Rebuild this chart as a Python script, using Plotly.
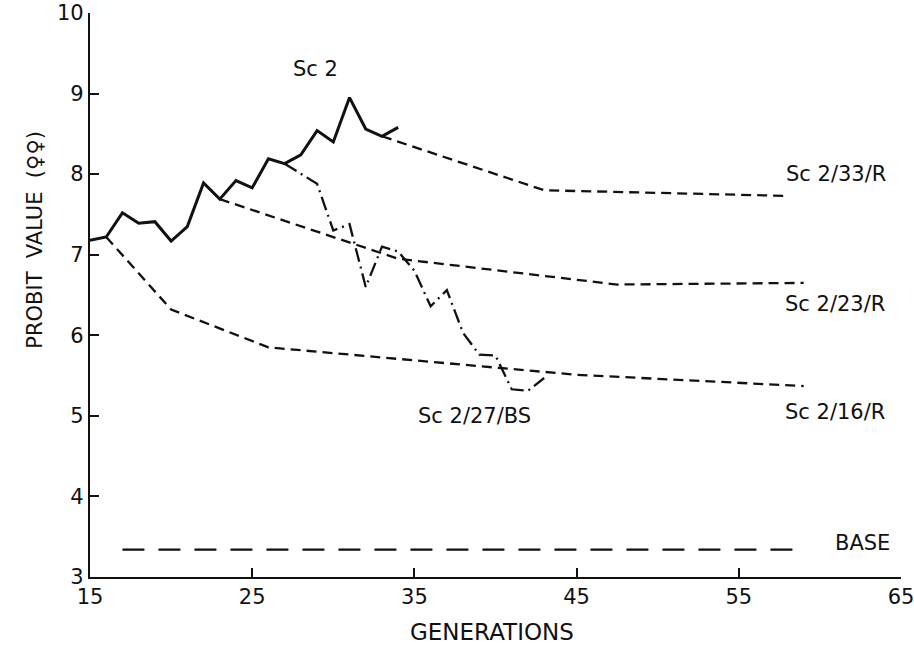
import plotly.graph_objects as go

# ---- data ----
sc2_gen = list(range(15, 35))
sc2_val = [7.18, 7.22, 7.52, 7.39, 7.41, 7.17, 7.35, 7.89, 7.69, 7.92,
           7.83, 8.19, 8.13, 8.24, 8.54, 8.40, 8.95, 8.56, 8.47, 8.58]

r33_gen = [33, 43, 58]
r33_val = [8.47, 7.80, 7.73]

r23_gen = [23, 34, 47.5, 59]
r23_val = [7.69, 6.95, 6.63, 6.65]

r16_gen = [16, 20, 26, 45, 59]
r16_val = [7.22, 6.32, 5.85, 5.51, 5.37]

bs_gen = [27, 29, 30, 31, 32, 33, 34, 35, 36, 37, 38, 39, 40, 41, 42, 43]
bs_val = [8.13, 7.88, 7.30, 7.38, 6.60, 7.10, 7.04, 6.80, 6.36, 6.56,
          6.03, 5.76, 5.75, 5.33, 5.31, 5.47]

base_gen = [17, 59]
base_val = [3.34, 3.34]

x_ticks = [15, 25, 35, 45, 55, 65]
y_ticks = [3, 4, 5, 6, 7, 8, 9, 10]

labels = ["Sc 2", "Sc 2/33/R", "Sc 2/23/R", "Sc 2/16/R", "Sc 2/27/BS", "BASE"]
label_x = [28.9, 61.0, 60.9, 60.9, 38.7, 62.6]
label_y = [9.31, 8.0, 6.39, 5.05, 5.0, 3.42]

FONT = "DejaVu Sans"
INK = "#111111"

fig = go.Figure()

def add(x, y, dash, width=2.3):
    fig.add_trace(go.Scatter(x=x, y=y, mode="lines",
                             line=dict(color=INK, width=width, dash=dash),
                             showlegend=False, hoverinfo="skip"))

add(r16_gen, r16_val, "10px,6px")
add(r23_gen, r23_val, "10px,6px")
add(r33_gen, r33_val, "10px,6px")
add(bs_gen, bs_val, "14px,5px,2px,5px")
add(base_gen, base_val, "22px,14px")
add(sc2_gen, sc2_val, "solid", 3)

for t, x, y in zip(labels, label_x, label_y):
    fig.add_annotation(x=x, y=y, text=t, showarrow=False,
                       xanchor="center", yanchor="middle",
                       font=dict(family=FONT, size=21, color=INK))

fig.add_annotation(x=-0.0678, y=0.598, xref="paper", yref="paper",
                   xanchor="center", yanchor="middle",
                   text="PROBIT  VALUE  (♀♀)", textangle=-90, showarrow=False,
                   font=dict(family=FONT, size=21, color=INK))
fig.add_annotation(x=0.496, y=-0.097, xref="paper", yref="paper",
                   xanchor="center", yanchor="middle",
                   text="GENERATIONS", showarrow=False,
                   font=dict(family=FONT, size=23, color=INK))

axis_common = dict(ticks="inside", ticklen=9, tickwidth=2, tickcolor=INK,
                   showline=True, linecolor=INK, linewidth=2.2,
                   showgrid=False, zeroline=False, automargin=False,
                   ticklabeloverflow="allow",
                   tickfont=dict(family=FONT, size=21, color=INK))
fig.update_xaxes(range=[15, 65], tickvals=x_ticks, **axis_common)
fig.update_yaxes(range=[3, 10], tickvals=y_ticks, **axis_common)

fig.update_layout(width=914, height=646, autosize=False,
                  margin=dict(l=90, r=13, t=13, b=69),
                  plot_bgcolor="white", paper_bgcolor="white",
                  font=dict(family=FONT, color=INK))

fig.write_html("out.html",
               config={"displayModeBar": False},
               post_script="document.body.style.margin='0';"
                           "document.body.style.overflow='hidden';")
